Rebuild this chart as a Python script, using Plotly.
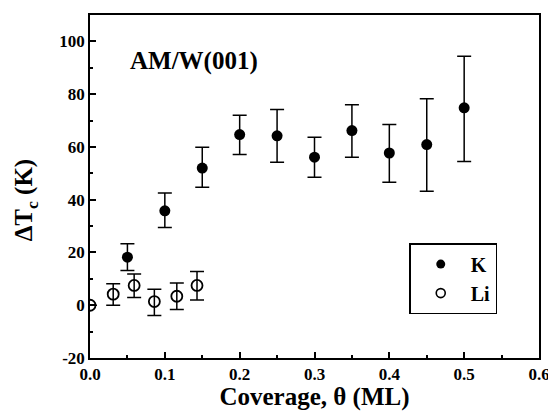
import plotly.graph_objects as go

# K data
k_x = [0.05, 0.10, 0.15, 0.20, 0.25, 0.30, 0.35, 0.40, 0.45, 0.50]
k_y = [18.2, 35.8, 52.0, 64.7, 64.2, 56.1, 66.2, 57.7, 60.9, 74.8]
k_err_plus = [5.1, 6.7, 7.9, 7.3, 10.0, 7.6, 9.8, 10.8, 17.4, 19.6]
k_err_minus = [5.0, 6.3, 7.3, 7.6, 10.0, 7.6, 10.1, 11.1, 17.7, 20.3]

# Li data
li_x = [0.0, 0.031, 0.059, 0.086, 0.116, 0.143]
li_y = [0.0, 4.2, 7.5, 1.4, 3.4, 7.5]
li_err_plus = [0.0, 3.9, 4.3, 4.7, 5.0, 5.3]
li_err_minus = [0.0, 4.2, 4.6, 5.3, 5.0, 5.5]

x_ticks = [0.0, 0.1, 0.2, 0.3, 0.4, 0.5, 0.6]
x_ticklabels = ["0.0", "0.1", "0.2", "0.3", "0.4", "0.5", "0.6"]
y_ticks = [-20, 0, 20, 40, 60, 80, 100]
y_ticklabels = ["-20", "0", "20", "40", "60", "80", "100"]

FONT = "Liberation Serif"

fig = go.Figure()
fig.add_trace(go.Scatter(
    x=k_x, y=k_y, mode="markers", name="K", showlegend=False,
    marker=dict(symbol="circle", size=11, color="black"),
    error_y=dict(type="data", array=k_err_plus, arrayminus=k_err_minus,
                 color="black", thickness=1.5, width=7),
))
fig.add_trace(go.Scatter(
    x=li_x, y=li_y, mode="markers", name="Li", showlegend=False,
    marker=dict(symbol="circle-open", size=11, color="black", line=dict(width=1.8)),
    error_y=dict(type="data", array=li_err_plus, arrayminus=li_err_minus,
                 color="black", thickness=1.5, width=7),
))
# legend entries (smaller symbols, as in the original key)
fig.add_trace(go.Scatter(
    x=[None], y=[None], mode="markers", name="K",
    marker=dict(symbol="circle", size=9, color="black"),
))
fig.add_trace(go.Scatter(
    x=[None], y=[None], mode="markers", name="Li",
    marker=dict(symbol="circle-open", size=9, color="black", line=dict(width=1.6)),
))

fig.add_annotation(
    text="<b>AM/W(001)</b>", x=0.0855, y=0.865, xref="paper", yref="paper",
    xanchor="left", yanchor="middle", showarrow=False,
    font=dict(family=FONT, size=25, color="black"),
)
fig.add_annotation(
    text="<b>ΔT<sub>c</sub> (K)</b>", textangle=-90,
    x=-0.143, y=0.462, xref="paper", yref="paper",
    xanchor="center", yanchor="middle", showarrow=False,
    font=dict(family=FONT, size=25, color="black"),
)

# page body adds an 8px margin, so the figure is sized to fit 556x419 without overflow
fig.update_layout(
    width=548, height=403,
    margin=dict(l=82, r=17, t=7, b=53),
    paper_bgcolor="white", plot_bgcolor="white",
    font=dict(family=FONT, color="black"),
    showlegend=True,
    legend=dict(
        x=0.711, y=0.335, xanchor="left", yanchor="top",
        bordercolor="black", borderwidth=1.5, bgcolor="white",
        font=dict(family=FONT, size=20, color="black", weight="bold"),
        itemwidth=50, tracegroupgap=0,
    ),
    xaxis=dict(
        range=[0.0, 0.6], tickvals=x_ticks, ticktext=x_ticklabels,
        ticks="inside", ticklen=6, tickwidth=1.5, tickcolor="black",
        minor=dict(dtick=0.05, ticks="inside", ticklen=3, tickwidth=1.5, tickcolor="black"),
        showline=True, linecolor="black", linewidth=1.5, mirror=True,
        showgrid=False, zeroline=False, automargin=False,
        tickfont=dict(family=FONT, size=17, color="black", weight="bold"),
        title=dict(text="<b>Coverage, θ (ML)</b>", font=dict(family=FONT, size=25, color="black"),
                   standoff=9),
    ),
    yaxis=dict(
        range=[-20, 110], tickvals=y_ticks, ticktext=y_ticklabels,
        ticks="inside", ticklen=6, tickwidth=1.5, tickcolor="black",
        minor=dict(dtick=10, ticks="inside", ticklen=3, tickwidth=1.5, tickcolor="black"),
        showline=True, linecolor="black", linewidth=1.5, mirror=True,
        showgrid=False, zeroline=False, automargin=False,
        tickfont=dict(family=FONT, size=17, color="black", weight="bold"),
    ),
)

fig.write_html("out.html")
